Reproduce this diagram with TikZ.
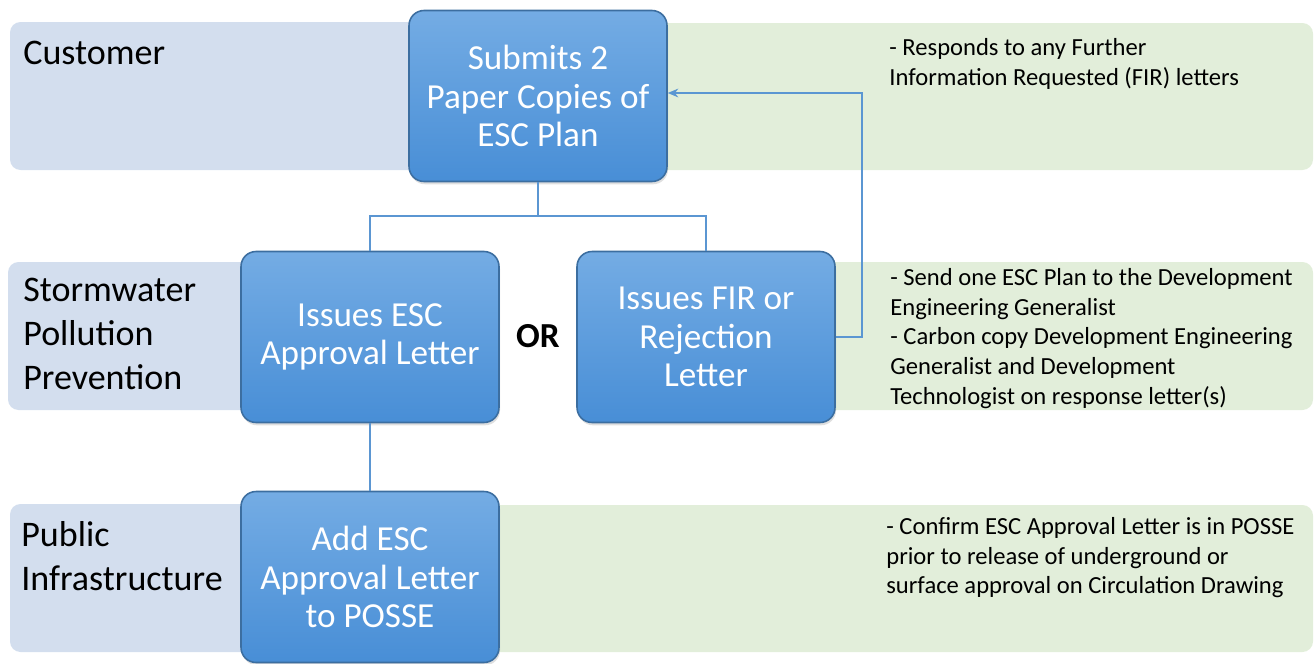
\documentclass[tikz,border=0pt]{standalone}
\usepackage{fontspec}
\setmainfont{Carlito}
\usetikzlibrary{arrows.meta,shadows}

\definecolor{lanebl}{RGB}{211,222,238}
\definecolor{lanegr}{RGB}{226,238,218}
\definecolor{boxtop}{RGB}{116,172,228}
\definecolor{boxbot}{RGB}{72,142,214}
\definecolor{boxline}{RGB}{60,110,160}
\definecolor{linkbl}{RGB}{91,150,210}

\tikzset{
	lane/.style={rounded corners=6pt},
	stepbox/.style={rounded corners=8.5pt, top color=boxtop, bottom color=boxbot,
		draw=boxline, line width=0.9pt, minimum width=5.16cm, minimum height=3.42cm,
		text=white, align=center, font=\fontsize{20}{22}\selectfont,
		drop shadow={opacity=0.25, shadow xshift=0.6pt, shadow yshift=-1.6pt}},
	lanetext/.style={anchor=north west, align=left, inner sep=0pt,
		font=\fontsize{20.5}{25}\selectfont},
	notetext/.style={anchor=north west, align=left, inner sep=0pt,
		font=\fontsize{14}{16.9}\selectfont},
	link/.style={draw=linkbl, line width=0.8pt},
}

\begin{document}
\begin{tikzpicture}
	\begin{scope}[x=0.02cm, y=-0.02cm]
		\useasboundingbox (0, 0) rectangle (1314, 663);

		% Draw the swim lanes
		\fill[lane, lanebl] (10, 22) rectangle (540, 170);
		\fill[lane, lanegr] (540, 23) rectangle (1313, 170);
		\fill[lane, lanebl] (8, 262) rectangle (370, 410);
		\fill[lane, lanegr] (706, 262) rectangle (1313, 410);
		\fill[lane, lanebl] (10, 504) rectangle (370, 652);
		\fill[lane, lanegr] (370, 505) rectangle (1313, 652);

		% Lane names
		\node[lanetext] (customer) at (23, 41) {Customer};
		\node[lanetext] (storm) at (23, 278) {Stormwater\\Pollution\\Prevention};
		\node[lanetext] (public) at (21, 521) {Public\\Infrastructure};

		% Notes on the right
		\node[notetext] (n1) at (889, 38) {- Responds to any Further\\Information Requested (FIR) letters};
		\node[notetext] (n2) at (890, 268) {- Send one ESC Plan to the Development\\Engineering Generalist\\- Carbon copy Development Engineering\\Generalist and Development\\Technologist on response letter(s)};
		\node[notetext] (n3) at (886, 517) {- Confirm ESC Approval Letter is in POSSE\\prior to release of underground or\\surface approval on Circulation Drawing};

		% Process steps
		\node[stepbox] (submit) at (538, 96) {Submits 2\\Paper Copies of\\ESC Plan};
		\node[stepbox] (approve) at (370, 337) {Issues ESC\\Approval Letter};
		\node[stepbox] (reject) at (706, 337) {Issues FIR or\\Rejection\\Letter};
		\node[stepbox] (post) at (370, 577) {Add ESC\\Approval Letter\\to POSSE};
		\node[font=\bfseries\fontsize{20}{22}\selectfont] (or) at (538, 336) {OR};

		% Draw the connectors
		\coordinate (split) at (538, 216);
		\coordinate (back) at (862, 93);
		\draw[link] (submit.south) -- (split) -| (approve.north);
		\draw[link] (split) -| (reject.north);
		\draw[link] (approve.south) -- (post.north);
		\draw[link, -{Stealth[length=6pt, width=5pt]}] (reject.east) -| (back) -- (submit.east |- back);
	\end{scope}
\end{tikzpicture}
\end{document}
